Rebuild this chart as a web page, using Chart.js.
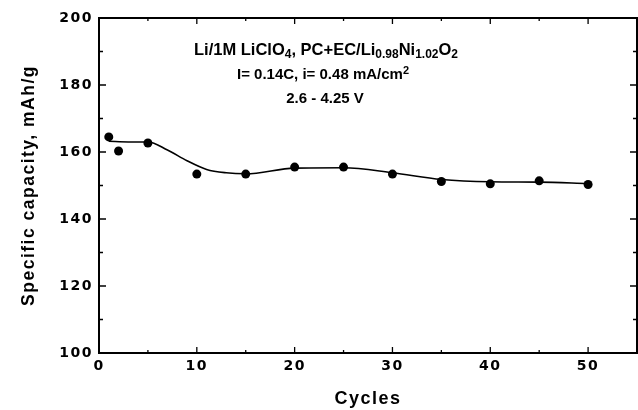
<!DOCTYPE html>
<html>
<head>
<meta charset="utf-8">
<script src="https://cdn.jsdelivr.net/npm/chart.js@4.4.1/dist/chart.umd.min.js"></script>
<style>
  html, body { margin: 0; padding: 0; background: #fff; }
  #wrap { width: 638px; height: 410px; }
</style>
</head>
<body>
<div id="wrap"><canvas id="cap" width="638" height="410"></canvas></div>
<script>
// measured points (cycle, capacity mAh/g)
const cycles = [1, 2, 5, 10, 15, 20, 25, 30, 35, 40, 45, 50]
const capacity = [164.5, 160.3, 162.7, 153.4, 153.4, 155.5, 155.5, 153.4, 151.2, 150.5, 151.4, 150.3]

// fitted curve
const fitCycles = [1, 3, 5, 7, 9, 11, 13, 15, 20, 25, 30, 35, 40, 45, 50]
const fitCapacity = [163.2, 163.0, 163.0, 160.6, 157.4, 154.8, 153.8, 153.5, 155.2, 155.3, 153.8, 151.8, 151.1, 151.0, 150.6]

const xTicks = [0, 10, 20, 30, 40, 50]
const yTicks = [100, 120, 140, 160, 180, 200]

const FONT = '"Liberation Sans", Arial, sans-serif'
const TICKFONT = '"DejaVu Sans", sans-serif'

function pts(xs, ys) {
  return xs.map((x, i) => ({ x: x, y: ys[i] }))
}

// wider letter spacing like the scanned figure
const spacingPlugin = {
  id: 'spacing',
  beforeDraw(chart) {
    chart.ctx.letterSpacing = '1.5px'
  }
}

// frame + inward ticks + annotation text
const framePlugin = {
  id: 'frame',
  afterDraw(chart) {
    const ctx = chart.ctx
    const a = chart.chartArea
    const xs = chart.scales.x
    const ys = chart.scales.y
    ctx.save()
    ctx.letterSpacing = '0px'
    ctx.strokeStyle = '#000'
    ctx.lineWidth = 2
    ctx.strokeRect(a.left, a.top, a.right - a.left, a.bottom - a.top)
    ctx.lineWidth = 1.3
    ctx.beginPath()
    for (let v = 5; v < 55; v += 5) {
      const px = xs.getPixelForValue(v)
      const len = v % 10 == 0 ? 6 : 3
      ctx.moveTo(px, a.bottom); ctx.lineTo(px, a.bottom - len)
      ctx.moveTo(px, a.top); ctx.lineTo(px, a.top + len)
    }
    for (let v = 110; v < 200; v += 10) {
      const py = ys.getPixelForValue(v)
      const len = v % 20 == 0 ? 7 : 4
      ctx.moveTo(a.left, py); ctx.lineTo(a.left + len, py)
      ctx.moveTo(a.right, py); ctx.lineTo(a.right - len, py)
    }
    ctx.stroke()

    // text block, each line centred
    ctx.fillStyle = '#000'
    ctx.textBaseline = 'alphabetic'
    function runs(cx, y, size, parts) {
      const big = 'bold ' + size + 'px ' + FONT
      const small = 'bold ' + Math.round(size * 0.7) + 'px ' + FONT
      let w = 0
      for (const p of parts) {
        ctx.font = p[1] ? small : big
        w += ctx.measureText(p[0]).width
      }
      let x = cx - w / 2
      for (const p of parts) {
        ctx.font = p[1] ? small : big
        const dy = p[1] == 'sub' ? 3 : (p[1] == 'sup' ? -5 : 0)
        ctx.fillText(p[0], x, y + dy)
        x += ctx.measureText(p[0]).width
      }
    }
    runs(326, 55, 16.5, [['Li/1M LiClO'], ['4', 'sub'], [', PC+EC/Li'], ['0.98', 'sub'], ['Ni'], ['1.02', 'sub'], ['O'], ['2', 'sub']])
    runs(323, 79, 15, [['I= 0.14C, i= 0.48 mA/cm'], ['2', 'sup']])
    runs(325, 103, 15, [['2.6 - 4.25 V']])
    ctx.restore()
  }
}

new Chart(document.getElementById('cap'), {
  type: 'scatter',
  data: {
    datasets: [
      {
        label: 'fit',
        data: pts(fitCycles, fitCapacity),
        showLine: true,
        cubicInterpolationMode: 'monotone',
        borderColor: '#000',
        borderWidth: 1.6,
        pointRadius: 0
      },
      {
        label: 'data',
        data: pts(cycles, capacity),
        showLine: false,
        pointRadius: 4.5,
        pointBackgroundColor: '#000',
        pointBorderColor: '#000',
        pointBorderWidth: 0
      }
    ]
  },
  plugins: [spacingPlugin, framePlugin],
  options: {
    responsive: false,
    animation: false,
    events: [],
    layout: { autoPadding: false, padding: { top: 18, right: 1, left: 0, bottom: 0 } },
    plugins: {
      legend: { display: false },
      tooltip: { enabled: false }
    },
    scales: {
      x: {
        type: 'linear',
        min: 0,
        max: 55,
        afterBuildTicks: (s) => { s.ticks = xTicks.map(v => ({ value: v })) },
        grid: { display: false, drawTicks: false },
        border: { display: false },
        ticks: { color: '#000', font: { family: TICKFONT, weight: 'bold', size: 14 }, padding: 5, maxRotation: 0 },
        title: { display: true, text: 'Cycles', color: '#000', font: { family: FONT, weight: 'bold', size: 18 }, padding: { top: 7, bottom: 0 } },
        afterFit: (s) => { s.height = 57; s.paddingRight = 0; s.paddingLeft = 0 }
      },
      y: {
        min: 100,
        max: 200,
        afterBuildTicks: (s) => { s.ticks = yTicks.map(v => ({ value: v })) },
        grid: { display: false, drawTicks: false },
        border: { display: false },
        ticks: { color: '#000', font: { family: TICKFONT, weight: 'bold', size: 14 }, padding: 6 },
        title: { display: true, text: 'Specific capacity, mAh/g', color: '#000', font: { family: FONT, weight: 'bold', size: 17.5 }, padding: { top: 19, bottom: 0 } },
        afterFit: (s) => { s.width = 99 }
      }
    }
  }
})
</script>
</body>
</html>
